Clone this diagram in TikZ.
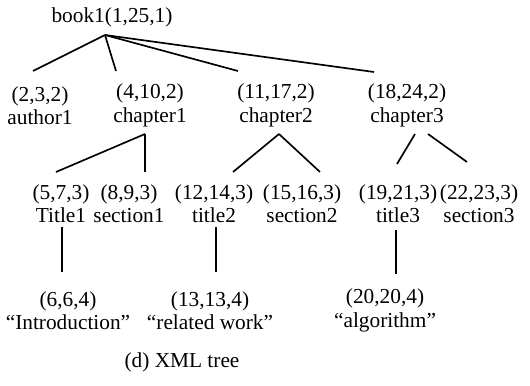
\documentclass[tikz,border=0pt]{standalone}
\usepackage{fontspec}
\setmainfont{Liberation Serif}
\begin{document}
\begin{tikzpicture}[x=0.75pt,y=-0.75pt,
  lbl/.style={inner sep=0pt,align=center,font=\fontsize{16pt}{17.5pt}\selectfont},
  edge/.style={line width=1.25pt}]
\useasboundingbox (0,0) rectangle (530,385);
% nodes
\node[lbl] (root) at (112,17) {book1(1,25,1)};
\node[lbl] (au1) at (40,105.5) {(2,3,2)\\author1};
\node[lbl] (ch1) at (150,105.5) {(4,10,2)\\chapter1};
\node[lbl] (ch2) at (276,105.5) {(11,17,2)\\chapter2};
\node[lbl] (ch3) at (407,105.5) {(18,24,2)\\chapter3};
\node[lbl] (ti1) at (61,203.5) {(5,7,3)\\Title1};
\node[lbl] (se1) at (129,203.5) {(8,9,3)\\section1};
\node[lbl] (ti2) at (214,203.5) {(12,14,3)\\title2};
\node[lbl] (se2) at (302,203.5) {(15,16,3)\\section2};
\node[lbl] (ti3) at (398,203.5) {(19,21,3)\\title3};
\node[lbl] (se3) at (479,203.5) {(22,23,3)\\section3};
\node[lbl] (in) at (68,310.5) {(6,6,4)\\“Introduction”};
\node[lbl] (rw) at (210,310.5) {(13,13,4)\\“related work”};
\node[lbl] (al) at (385,310.5) {(20,20,4)\\“algorithm”};
\node[lbl] (cap) at (182,362) {(d) XML tree};
% connector end points
\coordinate (rootB) at (105,35);
\coordinate (au1T) at (33,71);
\coordinate (ch1T) at (116,71);
\coordinate (ch2T) at (238,71);
\coordinate (ch3T) at (374,72);
\coordinate (ch1B) at (145,134);
\coordinate (ti1T) at (56,172);
\coordinate (se1T) at (145,172);
\coordinate (ch2B) at (279,134);
\coordinate (ti2T) at (233,172);
\coordinate (se2T) at (320,172);
\coordinate (ch3Ba) at (415,134);
\coordinate (ti3T) at (397,164);
\coordinate (ch3Bb) at (428,134);
\coordinate (se3T) at (467,162);
\coordinate (ti1B) at (62,227);
\coordinate (inT) at (62,272);
\coordinate (ti2B) at (216,227);
\coordinate (rwT) at (216,272);
\coordinate (ti3B) at (396,230);
\coordinate (alT) at (396,274);
% connectors
\draw[edge] (rootB) -- (au1T);
\draw[edge] (rootB) -- (ch1T);
\draw[edge] (rootB) -- (ch2T);
\draw[edge] (rootB) -- (ch3T);
\draw[edge] (ch1B) -- (ti1T);
\draw[edge] (ch1B) -- (se1T);
\draw[edge] (ch2B) -- (ti2T);
\draw[edge] (ch2B) -- (se2T);
\draw[edge] (ch3Ba) -- (ti3T);
\draw[edge] (ch3Bb) -- (se3T);
\draw[edge] (ti1B) -- (inT);
\draw[edge] (ti2B) -- (rwT);
\draw[edge] (ti3B) -- (alT);
\end{tikzpicture}
\end{document}
